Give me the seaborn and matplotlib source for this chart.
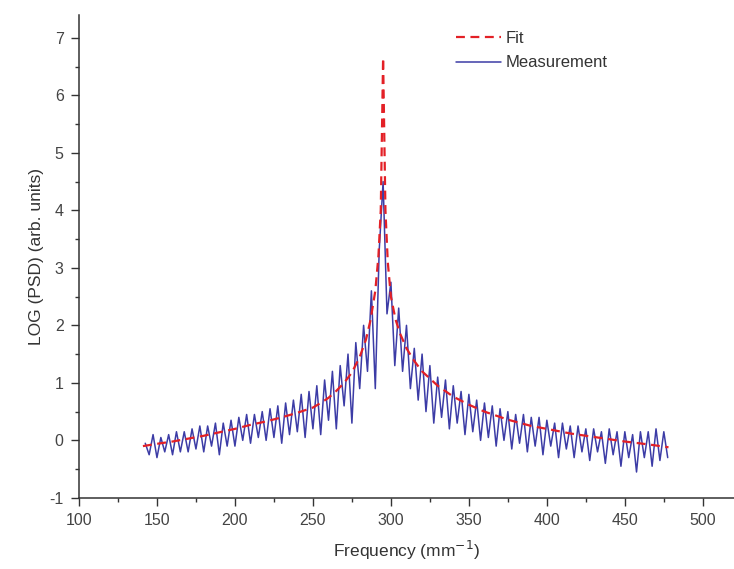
import numpy as np
import pandas as pd
import matplotlib
matplotlib.use("Agg")
import matplotlib.pyplot as plt
import seaborn as sns
from matplotlib.ticker import MultipleLocator

# fit curve
fit_x = [141, 150, 160, 170, 180, 190, 200, 210, 220, 230, 240, 250, 255, 260, 265,
         270, 275, 280, 284, 287, 290, 292, 293.5, 295, 296.5, 298, 300, 303, 306,
         310, 315, 320, 330, 340, 350, 360, 375, 390, 400, 415, 430, 450, 465, 478]
fit_y = [-0.1, -0.06, -0.02, 0.03, 0.08, 0.14, 0.2, 0.27, 0.33, 0.4, 0.48, 0.57, 0.65,
         0.74, 0.86, 1.0, 1.18, 1.45, 1.75, 2.1, 2.6, 3.2, 4.0, 6.65, 4.0, 3.1, 2.5,
         2.1, 1.85, 1.6, 1.38, 1.2, 0.95, 0.76, 0.62, 0.5, 0.36, 0.25, 0.2, 0.12,
         0.06, -0.02, -0.07, -0.12]

# measurement
meas_x = [142.5, 145, 147.5, 150, 152.5, 155, 157.5, 160, 162.5, 165,
          167.5, 170, 172.5, 175, 177.5, 180, 182.5, 185, 187.5, 190,
          192.5, 195, 197.5, 200, 202.5, 205, 207.5, 210, 212.5, 215,
          217.5, 220, 222.5, 225, 227.5, 230, 232.5, 235, 237.5, 240,
          242.5, 245, 247.5, 250, 252.5, 255, 257.5, 260, 262.5, 265,
          267.5, 270, 272.5, 275, 277.5, 280, 282.5, 285, 287.5, 290,
          292.5, 295, 297.5, 300, 302.5, 305, 307.5, 310, 312.5, 315,
          317.5, 320, 322.5, 325, 327.5, 330, 332.5, 335, 337.5, 340,
          342.5, 345, 347.5, 350, 352.5, 355, 357.5, 360, 362.5, 365,
          367.5, 370, 372.5, 375, 377.5, 380, 382.5, 385, 387.5, 390,
          392.5, 395, 397.5, 400, 402.5, 405, 407.5, 410, 412.5, 415,
          417.5, 420, 422.5, 425, 427.5, 430, 432.5, 435, 437.5, 440,
          442.5, 445, 447.5, 450, 452.5, 455, 457.5, 460, 462.5, 465,
          467.5, 470, 472.5, 475, 477.5]
meas_y = [-0.05, -0.25, 0.1, -0.3, 0.05, -0.2, 0.1, -0.25, 0.15, -0.2,
          0.15, -0.2, 0.2, -0.15, 0.25, -0.2, 0.25, -0.1, 0.3, -0.25,
          0.3, -0.1, 0.35, -0.1, 0.4, 0.0, 0.45, -0.05, 0.45, 0.05,
          0.5, 0.0, 0.55, 0.05, 0.6, -0.05, 0.65, 0.1, 0.7, 0.15,
          0.8, 0.05, 0.85, 0.2, 0.95, 0.1, 1.05, 0.35, 1.2, 0.2,
          1.3, 0.6, 1.5, 0.3, 1.7, 0.9, 2.0, 1.2, 2.6, 0.9,
          3.3, 4.5, 2.2, 2.75, 1.3, 2.3, 1.2, 2.0, 0.9, 1.6,
          0.7, 1.5, 0.5, 1.3, 0.3, 1.1, 0.4, 1.05, 0.2, 0.95,
          0.3, 0.85, 0.1, 0.8, 0.15, 0.7, 0.0, 0.65, 0.05, 0.6,
          -0.1, 0.55, 0.0, 0.5, -0.15, 0.45, -0.05, 0.45, -0.2, 0.4,
          -0.1, 0.4, -0.25, 0.35, -0.1, 0.3, -0.3, 0.3, -0.15, 0.25,
          -0.3, 0.25, -0.2, 0.2, -0.35, 0.2, -0.2, 0.15, -0.4, 0.2,
          -0.25, 0.15, -0.45, 0.15, -0.3, 0.1, -0.55, 0.15, -0.3, 0.15,
          -0.45, 0.2, -0.35, 0.15, -0.3]

fit = pd.DataFrame({"x": fit_x, "y": fit_y})
meas = pd.DataFrame({"x": meas_x, "y": meas_y})

sns.set_style("ticks")
plt.rcParams["font.family"] = ["Liberation Sans", "DejaVu Sans"]
plt.rcParams["axes.unicode_minus"] = False

fig = plt.figure(figsize=(7.34, 5.69), dpi=100)
ax = fig.add_axes([0.1076, 0.125, 0.8924, 0.849])

sns.lineplot(data=fit, x="x", y="y", ax=ax, color="#e32026", lw=1.6,
             linestyle=(0, (4, 2.5)), label="Fit", zorder=3)
sns.lineplot(data=meas, x="x", y="y", ax=ax, color="#3c3ca6", lw=1.1,
             label="Measurement", zorder=2)

ax.set_xlim(100, 520)
ax.set_ylim(-1, 7.4)
ax.xaxis.set_major_locator(MultipleLocator(50))
ax.xaxis.set_minor_locator(MultipleLocator(25))
ax.yaxis.set_major_locator(MultipleLocator(1))
ax.yaxis.set_minor_locator(MultipleLocator(0.5))
ax.tick_params(which="major", direction="out", length=6, width=1,
               labelsize=11.5, pad=5, colors="#333333", labelcolor="#444444")
ax.tick_params(which="minor", direction="out", length=3, width=1, colors="#333333")
sns.despine(ax=ax)
for s in ["left", "bottom"]:
    ax.spines[s].set_linewidth(1.1)
    ax.spines[s].set_color("#333333")

ax.set_xlabel("Frequency (mm$^{-1}$)", fontsize=12.5, labelpad=8, color="#333333")
ax.set_ylabel("LOG (PSD) (arb. units)", fontsize=12.5, labelpad=4, color="#333333")

ax.legend(loc="upper left", bbox_to_anchor=(0.552, 0.997), frameon=False,
          fontsize=12, handlelength=2.7, handletextpad=0.3, labelspacing=0.55,
          labelcolor="#333333")

fig.savefig("out.png", dpi=100)
